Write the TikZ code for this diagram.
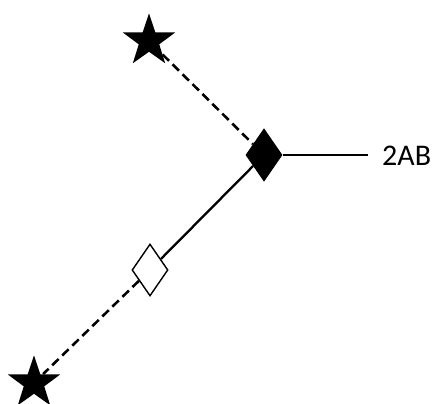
\documentclass[tikz,border=0pt]{standalone}
\usepackage{fontspec}
\setmainfont{Carlito}
\usetikzlibrary{shapes.geometric}
\tikzset{
  bigStar/.style={star,star points=5,star point ratio=2.55,fill=black,
    minimum size=55pt,inner sep=0pt,shape border rotate=0},
  fullDia/.style={diamond,draw=black,fill=black,line width=1pt,
    minimum width=36pt,minimum height=52pt,inner sep=0pt},
  openDia/.style={diamond,draw=black,fill=white,line width=1.4pt,
    minimum width=36pt,minimum height=52pt,inner sep=0pt},
  dashLink/.style={line width=2.6pt,dash pattern=on 9pt off 5pt},
  solidLink/.style={line width=2.3pt},
  tagText/.style={anchor=west,inner sep=0pt,font=\fontsize{30pt}{32pt}\selectfont}
}
\begin{document}
\begin{tikzpicture}[x=1pt,y=-1pt]
      \useasboundingbox (0,0) rectangle (432,404);
      \node[bigStar] (starTop) at (149,41) {};
      \node[fullDia] (diaFull) at (264,155) {};
      \node[openDia] (diaOpen) at (150,270) {};
      \node[bigStar] (starLow) at (34,383) {};
      \coordinate (tail) at (368,155);
      \node[tagText] (lab) at (382,156) {2AB};
      \draw[dashLink] (starTop) -- (diaFull);
      \draw[solidLink] (diaFull) -- (diaOpen);
      \draw[dashLink] (diaOpen) -- (starLow);
      \draw[line width=1.8pt] (diaFull.east) -- (tail);
    \end{tikzpicture}
\end{document}
